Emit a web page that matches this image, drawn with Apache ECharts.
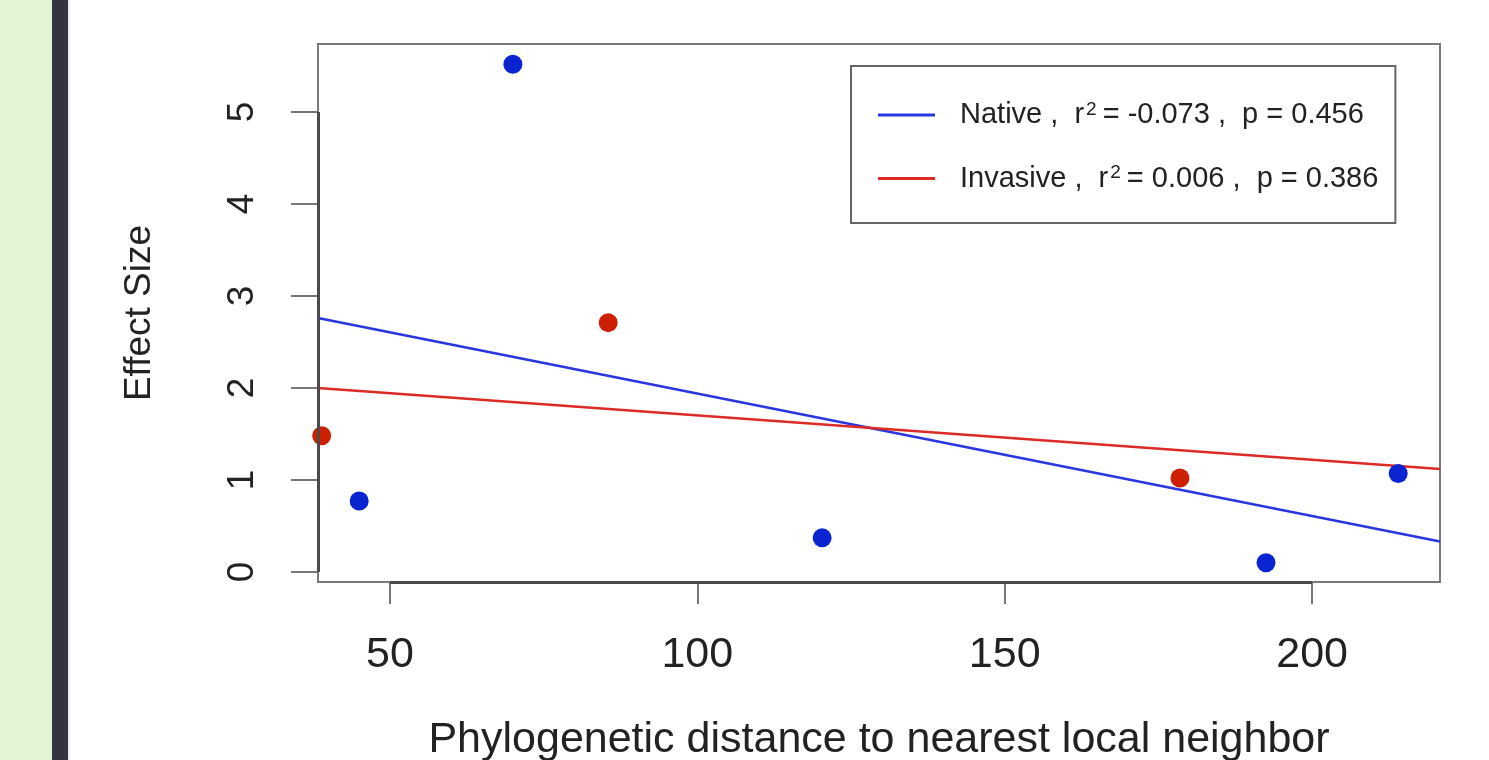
<!DOCTYPE html>
<html>
<head>
<meta charset="utf-8">
<script src="https://cdn.jsdelivr.net/npm/echarts@6/dist/echarts.min.js"></script>
<style>
  html, body { margin: 0; padding: 0; background: #fff; }
  .page { position: relative; width: 1489px; height: 760px; overflow: hidden; background: #fff; }
  .strip { position: absolute; left: 0; top: 0; width: 52px; height: 760px; background: #e3f5d7; }
  .bar { position: absolute; left: 52px; top: 0; width: 16px; height: 760px; background: #33343f; }
  .edge { position: absolute; left: 68px; top: 0; width: 2px; height: 760px; background: #eeeeee; }
  #chart { position: absolute; left: 0; top: 0; width: 1489px; height: 760px; }
</style>
</head>
<body>
<div class="page">
  <div class="strip"></div>
  <div class="bar"></div>
  <div class="edge"></div>
  <div id="chart"></div>
</div>
<script>
// points
const nativeX = [45, 70, 120.3, 192.5, 214];
const nativeY = [0.77, 5.52, 0.37, 0.10, 1.07];
const invasiveX = [38.9, 85.5, 178.5];
const invasiveY = [1.48, 2.71, 1.02];

// fitted lines, ends at the plot edges
const fitX = [38.3, 220.8];
const nativeFitY = [2.76, 0.33];
const invasiveFitY = [2.0, 1.12];

// axes
const xMin = 38.3, xMax = 220.8;
const yMin = -0.11, yMax = 5.74;
const xTicks = [50, 100, 150, 200];
const yTicks = [0, 1, 2, 3, 4, 5];

// legend
const groups = ['Native', 'Invasive'];
const r2 = ['-0.073', '0.006'];
const pv = ['0.456', '0.386'];

const font = 'Liberation Sans, Arial, Helvetica, sans-serif';
const pairs = (xs, ys) => xs.map((x, i) => [x, ys[i]]);

const chart = echarts.init(document.getElementById('chart'));

const option = {
  animation: false,
  textStyle: { fontFamily: font },
  grid: {
    left: 318, top: 44, width: 1122, height: 538,
    containLabel: false, outerBoundsMode: 'none',
    show: true, borderColor: '#7a7a7a', borderWidth: 2, backgroundColor: 'transparent'
  },
  legend: {
    data: groups,
    orient: 'vertical',
    left: 851, top: 66,
    padding: [34, 17, 30, 27],
    itemGap: 34,
    itemWidth: 57, itemHeight: 3,
    icon: 'rect',
    backgroundColor: '#fff',
    borderColor: '#666', borderWidth: 2, borderRadius: 0,
    formatter: name => {
      const i = groups.indexOf(name);
      return `{t|${name} ,  r}{s|2}{t|= ${r2[i]} ,  p = ${pv[i]}}`;
    },
    textStyle: {
      fontFamily: font, color: '#222', padding: [0, 0, 0, 20],
      rich: {
        t: { fontSize: 29, lineHeight: 30, color: '#222', fontFamily: font },
        s: { fontSize: 19, lineHeight: 19, verticalAlign: 'top', padding: [0, 6, 0, 2], color: '#222', fontFamily: font }
      }
    }
  },
  xAxis: {
    type: 'value', min: xMin, max: xMax,
    name: 'Phylogenetic distance to nearest local neighbor',
    nameLocation: 'middle', nameGap: 137,
    nameTextStyle: { fontSize: 43, color: '#222', fontFamily: font },
    axisLine: { show: false, onZero: false },
    splitLine: { show: false },
    axisTick: { show: true, customValues: xTicks, length: 22, lineStyle: { color: '#777', width: 2 } },
    axisLabel: { customValues: xTicks, fontSize: 43, color: '#222', margin: 52, fontFamily: font }
  },
  yAxis: {
    type: 'value', min: yMin, max: yMax,
    name: 'Effect Size',
    nameLocation: 'middle', nameGap: 160,
    nameTextStyle: { fontSize: 37, color: '#222', fontFamily: font },
    axisLine: { show: false, onZero: false },
    splitLine: { show: false },
    axisTick: { show: true, customValues: yTicks, length: 27, lineStyle: { color: '#777', width: 2 } },
    axisLabel: { customValues: yTicks, rotate: 90, fontSize: 37, color: '#222', margin: 57, fontFamily: font }
  },
  series: [
    {
      name: 'Native',
      type: 'line',
      data: pairs(fitX, nativeFitY),
      showSymbol: false,
      lineStyle: { color: '#2a36e0', width: 2.5 },
      itemStyle: { color: '#2a36e0' },
      z: 2,
      markLine: {
        silent: true, symbol: 'none', label: { show: false },
        lineStyle: { color: '#4a4a4a', width: 3, type: 'solid' },
        data: [
          [{ coord: [xTicks[0], yMin] }, { coord: [xTicks[xTicks.length - 1], yMin] }],
          [{ coord: [xMin, yTicks[0]] }, { coord: [xMin, yTicks[yTicks.length - 1]] }]
        ]
      }
    },
    {
      name: 'Invasive',
      type: 'line',
      data: pairs(fitX, invasiveFitY),
      showSymbol: false,
      lineStyle: { color: '#dc2a24', width: 2.5 },
      itemStyle: { color: '#dc2a24' },
      z: 2
    },
    {
      name: 'Native points',
      type: 'scatter',
      data: pairs(nativeX, nativeY),
      symbolSize: 19,
      itemStyle: { color: '#0a24d2', opacity: 1 },
      z: 3
    },
    {
      name: 'Invasive points',
      type: 'scatter',
      data: pairs(invasiveX, invasiveY),
      symbolSize: 19,
      itemStyle: { color: '#cc2000', opacity: 1 },
      z: 3
    }
  ]
};

chart.setOption(option);
</script>
</body>
</html>
